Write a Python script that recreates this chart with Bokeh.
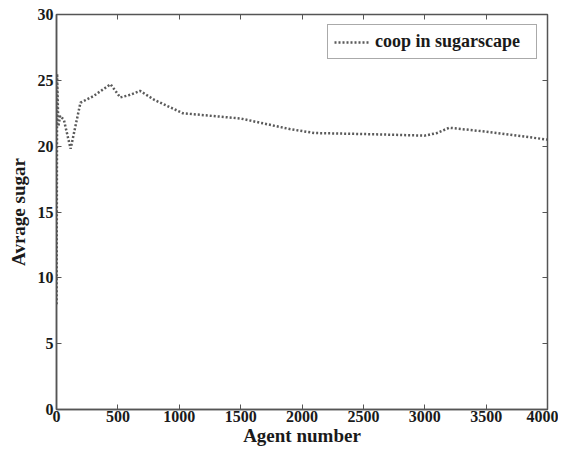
from bokeh.plotting import figure
from bokeh.models import LinearAxis, Range1d, FixedTicker, Legend, LegendItem
from bokeh.embed import file_html
from bokeh.resources import INLINE

agents = [1, 5, 15, 30, 60, 115, 195, 300, 440, 520, 600, 680, 800, 1030, 1500, 1900, 2100, 2600, 3000, 3100, 3200, 3500, 4000]
sugar = [8, 25.5, 21.5, 22.3, 22.0, 19.8, 23.3, 23.8, 24.7, 23.7, 23.9, 24.2, 23.5, 22.5, 22.1, 21.3, 21.0, 20.9, 20.8, 21.0, 21.4, 21.1, 20.5]

xticks = [0, 500, 1000, 1500, 2000, 2500, 3000, 3500, 4000]
yticks = [0, 5, 10, 15, 20, 25, 30]

FONT = "Times New Roman"
AX = "#555555"
TXT = "#1a1a1a"

p = figure(width=558, height=450, output_backend="svg", toolbar_location=None,
           x_range=Range1d(0, 4000), y_range=Range1d(0, 30),
           min_border_left=56, min_border_right=11, min_border_top=14, min_border_bottom=41)
p.grid.visible = False
p.outline_line_color = AX
p.outline_line_width = 1.5

line = p.line(agents, sugar, line_color="#5a5a5a", line_width=2.5, line_dash="2 2")

for ax in (p.xaxis[0], p.yaxis[0]):
    ax.major_tick_in = 5
    ax.major_tick_out = 0
    ax.minor_tick_line_color = None
    ax.axis_line_color = AX
    ax.axis_line_width = 1.5
    ax.major_tick_line_color = AX
    ax.major_label_text_font = FONT
    ax.major_label_text_font_style = "bold"
    ax.major_label_text_font_size = "16px"
    ax.major_label_text_color = TXT
    ax.axis_label_text_font = FONT
    ax.axis_label_text_font_style = "bold"
    ax.axis_label_text_font_size = "19px"
    ax.axis_label_text_color = TXT

p.xaxis[0].ticker = FixedTicker(ticks=xticks)
p.yaxis[0].ticker = FixedTicker(ticks=yticks)
p.xaxis[0].axis_label = "Agent number"
p.yaxis[0].axis_label = "Avrage sugar"
p.xaxis[0].major_label_standoff = 1
p.yaxis[0].major_label_standoff = 3
p.xaxis[0].axis_label_standoff = 0
p.yaxis[0].axis_label_standoff = 6

top = LinearAxis(ticker=FixedTicker(ticks=xticks),
                 major_label_overrides={t: "" for t in xticks},
                 major_tick_in=5, major_tick_out=0, minor_tick_line_color=None,
                 axis_line_color=AX, major_tick_line_color=AX)
right = LinearAxis(ticker=FixedTicker(ticks=yticks),
                   major_label_overrides={t: "" for t in yticks},
                   major_tick_in=5, major_tick_out=0, minor_tick_line_color=None,
                   axis_line_color=AX, major_tick_line_color=AX)
p.add_layout(top, "above")
p.add_layout(right, "right")

legend = Legend(items=[LegendItem(label="coop in sugarscape", renderers=[line])],
                location="top_right", label_text_font=FONT, label_text_font_style="bold",
                label_text_font_size="18px", label_text_color=TXT,
                border_line_color=AX, border_line_width=1.5,
                margin=10, padding=6, glyph_width=36, glyph_height=16,
                label_standoff=5, spacing=0, label_height=16, label_width=155)
p.add_layout(legend)

open("out.html", "w").write(file_html(p, INLINE))
